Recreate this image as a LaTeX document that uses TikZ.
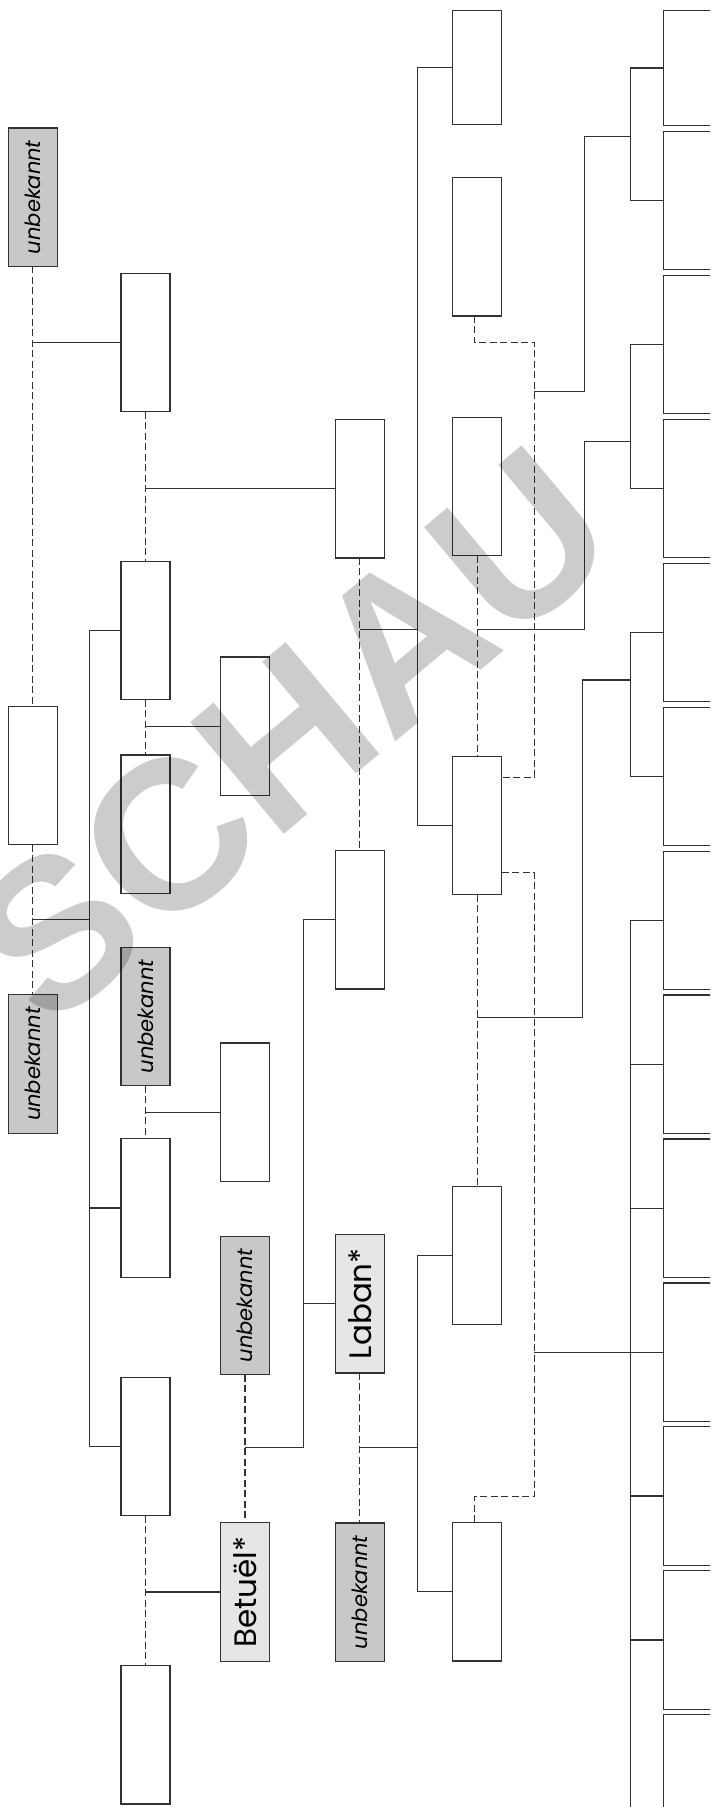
\documentclass[tikz,border=0pt]{standalone}
\usepackage{fontspec}
\usepackage{graphicx}
\setmainfont{Poppins}
\newfontfamily\wmfont{Liberation Sans}
\usetikzlibrary{calc}
\definecolor{lnc}{HTML}{333333}
\definecolor{unkc}{HTML}{C8C8C8}
\definecolor{namc}{HTML}{E6E6E6}
\begin{document}
\begin{tikzpicture}[x=1pt,y=-1pt,
  box/.style={draw=lnc, line width=1.2pt, fill=white, minimum width=49pt, minimum height=138.5pt, inner sep=0pt, outer sep=0pt},
  unk/.style={box, fill=unkc, font=\fontsize{21}{25}\selectfont\itshape},
  nm/.style={box, fill=namc, font=\fontsize{31}{34}\selectfont},
  ln/.style={draw=lnc, line width=1.1pt},
  dl/.style={ln, dash pattern=on 7pt off 3.5pt},
]
\useasboundingbox (0,0) rectangle (710,1807);
\fill[white] (0,0) rectangle (710,1807);
\clip (0,0) rectangle (710,1807);
% column 1
\node[unk] (u1a) at (32.7,197.2) {\rotatebox{90}{unbekannt}};
\node[box] (w1)  at (32.7,775.6) {};
\node[unk] (u1b) at (32.7,1064.1) {\rotatebox{90}{unbekannt}};
% column 2
\node[box] (w2a) at (145.5,342.4) {};
\node[box] (w2b) at (145.5,630.5) {};
\node[box] (w2c) at (145.5,824.2) {};
\node[unk] (u2)  at (145.5,1016.6) {\rotatebox{90}{unbekannt}};
\node[box] (w2d) at (145.5,1208) {};
\node[box] (w2e) at (145.5,1446.5) {};
\node[box] (w2f) at (145.5,1734.7) {};
% column 3
\node[box] (w3a) at (245,726.2) {};
\node[box] (w3b) at (245,1112.2) {};
\node[unk] (u3)  at (245,1305.5) {\rotatebox{90}{unbekannt}};
\node[nm]  (bet) at (245,1592) {\rotatebox{90}{Betuël*}};
% column 4
\node[box] (w4a) at (359.8,488.7) {};
\node[box] (w4b) at (359.8,919.8) {};
\node[nm]  (lab) at (359.8,1303.7) {\rotatebox{90}{Laban*}};
\node[unk] (u4)  at (359.8,1592.2) {\rotatebox{90}{unbekannt}};
% column 5
\node[box, minimum height=114pt] (w5a) at (477.2,67.5) {};
\node[box] (w5b) at (477.2,246.7) {};
\node[box] (w5c) at (477.2,486.5) {};
\node[box] (w5d) at (477.2,825.5) {};
\node[box] (w5e) at (477.2,1255.5) {};
\node[box] (w5f) at (477.2,1591.8) {};
% column 6
\node[box, minimum height=115.2pt] (c1) at (687.8,68) {};
\foreach \i [evaluate=\i as \cy using {131.5+69.15+(\i-2)*143.93}] in {2,...,13}
  \node[box, minimum height=138.3pt] (c\i) at (687.8,\cy) {};
% helper coordinates
\coordinate (xb12) at (89.3,0);
\coordinate (xb34) at (303.7,0);
\coordinate (xb45) at (417.3,0);
\coordinate (xd)   at (534.3,0);
\coordinate (xa)   at (584.5,0);
\coordinate (xb)   at (582.3,0);
\coordinate (x6)   at (630.3,0);
\coordinate (y137) at (0,136.8);
\coordinate (y391) at (0,391.3);
\coordinate (y442) at (0,441.7);
\coordinate (y630) at (0,629.5);
\coordinate (y680) at (0,680);
\coordinate (y920) at (0,919.8);
\coordinate (y1018) at (0,1017.7);
\coordinate (y1448) at (0,1447.7);
\coordinate (y1497) at (0,1496.5);
\coordinate (ybot) at (0,1830);
% column 1 links
\draw[dl] (u1a.south) -- (w1.north);
\draw[ln] (u1a.south |- w2a.west) -- (w2a.west);
\draw[dl] (w1.south) -- (u1b.north);
\draw[ln] (w1.south |- y920) -- (xb12 |- y920);
\draw[ln] (w2b.west) -| (xb12 |- w2e.west) -- (w2e.west);
\draw[ln] (xb12 |- w2d.west) -- (w2d.west);
% column 2 links
\draw[dl] (w2a.south) -- (w2b.north);
\draw[ln] (w2a.south |- w4a.west) -- (w4a.west);
\draw[dl] (w2b.south) -- (w2c.north);
\draw[ln] (w2b.south |- w3a.west) -- (w3a.west);
\draw[dl] (u2.south) -- (w2d.north);
\draw[ln] (u2.south |- w3b.west) -- (w3b.west);
\draw[dl] (w2e.south) -- (w2f.north);
\draw[ln] (w2e.south |- bet.west) -- (bet.west);
% column 3 links
\draw[dl] (u3.south) -- (bet.north);
\draw[ln] (u3.south |- y1448) -- (xb34 |- y1448) |- (w4b.west);
\draw[ln] (xb34 |- lab.west) -- (lab.west);
% column 4 links
\draw[dl] (w4a.south) -- (w4b.north);
\draw[ln] (w4a.south |- y630) -- (xb45 |- y630);
\draw[dl] (lab.south) -- (u4.north);
\draw[ln] (lab.south |- y1448) -- (xb45 |- y1448);
\draw[ln] (w5a.west) -| (xb45 |- w5d.west) -- (w5d.west);
\draw[ln] (w5e.west) -| (xb45 |- w5f.west) -- (w5f.west);
% column 5 links
\coordinate (d0) at ($(w5b.south)+(-3,0)$);
\coordinate (d1) at ($(w5b.south)+(-3,26.5)$);
\coordinate (d2) at ($(w5d.north east)+(0,21)$);
\coordinate (d3) at ($(w5d.south east)+(0,-22)$);
\coordinate (d4) at ($(w5f.north)+(-3,0)$);
\draw[dl] (d0) -- (d1) -| (xd |- d2) -- (d2);
\draw[dl] (d3) -| (xd |- y1497) -| (d4);
\draw[dl] (w5c.south) -- (w5d.north);
\draw[dl] (w5d.south) -- (w5e.north);
\draw[ln] (xd |- y391) -| (xa |- y137) -- (x6 |- y137);
\draw[ln] (w5c.south |- y630) -| (xa |- y442) -- (x6 |- y442);
\draw[ln] (w5d.south |- y1018) -| (xb |- y680) -- (x6 |- y680);
\draw[ln] (xd |- c10.west) -- (c10.west);
% column 6 brackets
\draw[ln] (c1.west) -| (x6 |- c2.west) -- (c2.west);
\draw[ln] (c3.west) -| (x6 |- c4.west) -- (c4.west);
\draw[ln] (c5.west) -| (x6 |- c6.west) -- (c6.west);
\draw[ln] (c7.west) -| (x6 |- ybot);
\foreach \i in {8,...,12} \draw[ln] (x6 |- c\i.west) -- (c\i.west);
% watermark
\node[rotate=40, opacity=0.2, text=black, font=\wmfont\bfseries\fontsize{212}{212}\selectfont] (wm) at (290,735) {SCHAU};
\end{tikzpicture}
\end{document}
